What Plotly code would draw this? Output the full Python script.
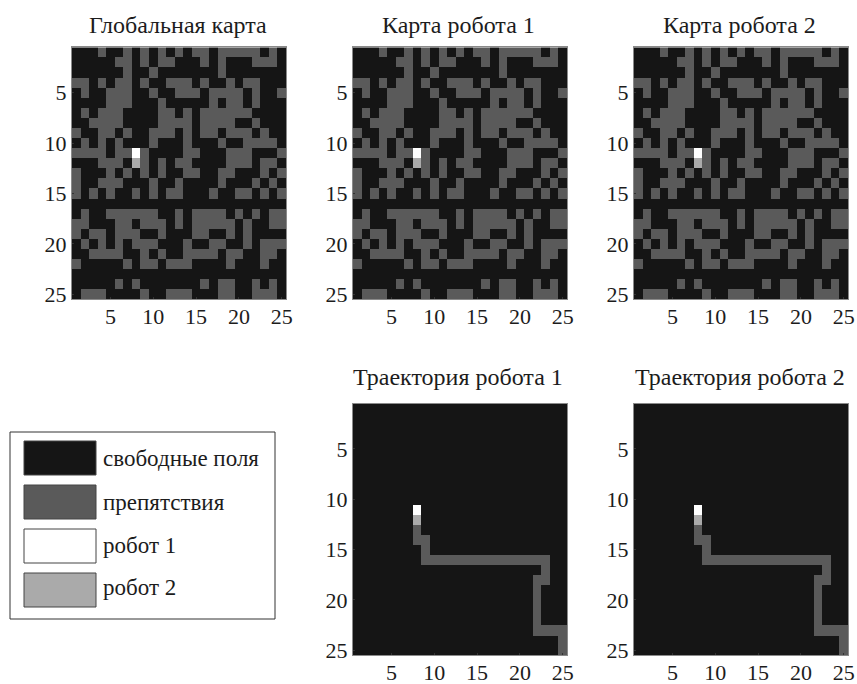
import plotly.graph_objects as go

# Value codes for the map cells
CODE_FREE, CODE_OBSTACLE, CODE_ROBOT1, CODE_ROBOT2 = 0, 1, 2, 3
N = 25
AXIS_TICKS = [5, 10, 15, 20, 25]

# Obstacle columns of each map row (row number -> column numbers)
OBSTACLES = {
    1: [4, 7, 9, 11, 13, 15, 16, 18, 19, 20, 21, 22, 24],
    2: [6, 7, 9, 11, 12, 16, 18, 22, 23, 24],
    3: [7, 10, 18],
    4: [1, 2, 4, 6, 7, 9, 12, 13, 14, 16, 19, 21, 22],
    5: [2, 5, 6, 7, 10, 13, 14, 15, 17, 18, 19, 20, 22, 25],
    6: [5, 6, 7, 11, 17, 19, 20, 22],
    7: [2, 4, 5, 6, 11, 12, 14, 16, 17, 18, 19, 20, 21],
    8: [3, 4, 5, 6, 11, 12, 13, 14, 16, 17, 18, 19, 22],
    9: [1, 4, 5, 7, 10, 11, 12, 14, 16, 17, 19, 20, 21, 23],
    10: [2, 4, 6, 10, 14, 18, 21, 22, 23, 24],
    11: [1, 2, 3, 4, 6, 7, 9, 14, 15, 19, 20, 21, 25],
    12: [4, 5, 6, 9, 11, 13, 14, 19, 20, 21, 23, 24],
    13: [1, 5, 7, 9, 11, 14, 15, 18, 19, 23, 25],
    14: [1, 4, 5, 6, 10, 13, 18, 22, 24],
    15: [1, 3, 5, 8, 10, 12, 13, 17, 20, 21, 23, 25],
    16: [],
    17: [2, 5, 6, 7, 8, 9, 10, 13, 15, 16, 17, 18, 20, 22, 24, 25],
    18: [1, 2, 6, 7, 9, 10, 11, 13, 15, 16, 17, 18, 19, 21, 24, 25],
    19: [1, 3, 4, 6, 7, 8, 11, 15, 16, 19, 21],
    20: [2, 4, 6, 8, 9, 10, 14, 17, 18, 21, 23, 24, 25],
    21: [3, 4, 5, 6, 9, 11, 14, 15, 16, 17, 19, 20, 23, 24],
    22: [1, 7, 9, 10, 12, 13, 14, 19, 23],
    23: [],
    24: [6, 8, 16, 18, 19, 22, 24],
    25: [2, 3, 4, 9, 12, 13, 14, 18, 19, 22, 23, 24],
}

# Trajectory cells as (row, column)
TRAJECTORY = [
    (13, 8), (14, 8), (14, 9), (15, 9), (16, 9), (16, 10), (16, 11), (16, 12),
    (16, 13), (16, 14), (16, 15), (16, 16), (16, 17), (16, 18), (16, 19),
    (16, 20), (16, 21), (16, 22), (16, 23), (17, 23), (18, 23), (18, 22),
    (19, 22), (20, 22), (21, 22), (22, 22), (23, 22), (23, 23), (23, 24),
    (23, 25), (24, 25), (25, 25),
]

ROBOT1_CELL = (11, 8)
ROBOT2_CELL = (12, 8)

MAP_TITLES = ["Глобальная карта", "Карта робота 1", "Карта робота 2"]
TRAJ_TITLES = ["Траектория робота 1", "Траектория робота 2"]
LEGEND_LABELS = ["свободные поля", "препятствия", "робот 1", "робот 2"]

COLORS = ["#151515", "#5a5a5a", "#ffffff", "#aaaaaa"]
FONT = "Liberation Serif"
W, H = 857, 684


def blank():
    return [[CODE_FREE] * N for _ in range(N)]


def with_robots(z):
    z[ROBOT1_CELL[0] - 1][ROBOT1_CELL[1] - 1] = CODE_ROBOT1
    z[ROBOT2_CELL[0] - 1][ROBOT2_CELL[1] - 1] = CODE_ROBOT2
    return z


def map_grid():
    z = blank()
    for r, cols in OBSTACLES.items():
        for c in cols:
            z[r - 1][c - 1] = CODE_OBSTACLE
    return with_robots(z)


def traj_grid():
    z = blank()
    for r, c in TRAJECTORY:
        z[r - 1][c - 1] = CODE_OBSTACLE
    return with_robots(z)


COLORSCALE = [
    [0.0, COLORS[0]], [0.25, COLORS[0]],
    [0.25, COLORS[1]], [0.5, COLORS[1]],
    [0.5, COLORS[3]], [0.75, COLORS[3]],
    [0.75, COLORS[2]], [1.0, COLORS[2]],
]
# Codes: keep the scale ordered free < obstacle < robot 2 < robot 1
REMAP = {CODE_FREE: 0, CODE_OBSTACLE: 1, CODE_ROBOT2: 2, CODE_ROBOT1: 3}

# x0, x1, y0, y1, title, title centre y, grid
PANELS = [
    (72, 286, 47.3, 299.3, MAP_TITLES[0], 25, map_grid),
    (353, 567, 47.3, 299.3, MAP_TITLES[1], 25, map_grid),
    (634, 848, 47.3, 299.3, MAP_TITLES[2], 25, map_grid),
    (353, 567, 403.7, 655.3, TRAJ_TITLES[0], 377, traj_grid),
    (634, 848, 403.7, 655.3, TRAJ_TITLES[1], 377, traj_grid),
]

fig = go.Figure()
ann = []
shapes = []


def px(x):
    return x / W


def py(y):
    return 1 - y / H


for i, (x0, x1, y0, y1, title, title_y, grid) in enumerate(PANELS):
    sfx = "" if i == 0 else str(i + 1)
    z = [[REMAP[v] for v in row] for row in grid()]
    fig.add_trace(go.Heatmap(
        z=z, x=list(range(1, N + 1)), y=list(range(1, N + 1)),
        zmin=0, zmax=3, colorscale=COLORSCALE, showscale=False,
        xaxis="x" + sfx, yaxis="y" + sfx, hoverinfo="skip",
    ))
    common = dict(
        tickvals=AXIS_TICKS, ticks="inside", ticklen=2, tickwidth=1,
        tickcolor="#333333", showline=True, linecolor="#8a8a8a", linewidth=1,
        mirror=True, showgrid=False, zeroline=False, automargin=False,
        tickfont=dict(family=FONT, size=22, color="#1c1c1c"),
    )
    fig.update_layout({
        "xaxis" + sfx: dict(domain=[px(x0), px(x1)], range=[0.5, N + 0.5],
                            anchor="y" + sfx, ticklabelstandoff=-3, **common),
        "yaxis" + sfx: dict(domain=[py(y1), py(y0)], range=[N + 0.5, 0.5],
                            anchor="x" + sfx, **common),
    })
    ann.append(dict(
        text=title, x=px((x0 + x1) / 2 - 1.5), y=py(title_y), xref="paper", yref="paper",
        showarrow=False, xanchor="center", yanchor="middle",
        font=dict(family=FONT, size=24, color="#1c1c1c"),
    ))

# Legend box, drawn in page space
shapes.append(dict(type="rect", xref="paper", yref="paper",
                   x0=px(10), x1=px(275), y0=py(619), y1=py(432),
                   line=dict(color="#333333", width=1), fillcolor="white"))
SWATCH_TOPS = [441, 485, 529, 573]
TEXT_Y = [458, 502, 545, 587]
LEGEND_COLORS = [COLORS[0], COLORS[1], COLORS[2], COLORS[3]]
for top, ty, lab, col in zip(SWATCH_TOPS, TEXT_Y, LEGEND_LABELS, LEGEND_COLORS):
    shapes.append(dict(type="rect", xref="paper", yref="paper",
                       x0=px(24), x1=px(96), y0=py(top + 34), y1=py(top),
                       line=dict(color="#444444", width=1), fillcolor=col))
    ann.append(dict(
        text=lab, x=px(101), y=py(ty), xref="paper", yref="paper",
        showarrow=False, xanchor="left", yanchor="middle",
        font=dict(family=FONT, size=23, color="#1c1c1c"),
    ))

fig.update_layout(
    width=W, height=H, margin=dict(l=0, r=0, t=0, b=0),
    paper_bgcolor="white", plot_bgcolor="white",
    annotations=ann, shapes=shapes, showlegend=False,
)

fig.write_html(
    "out.html",
    post_script="document.body.style.margin='0';",
    config={"displayModeBar": False},
)
